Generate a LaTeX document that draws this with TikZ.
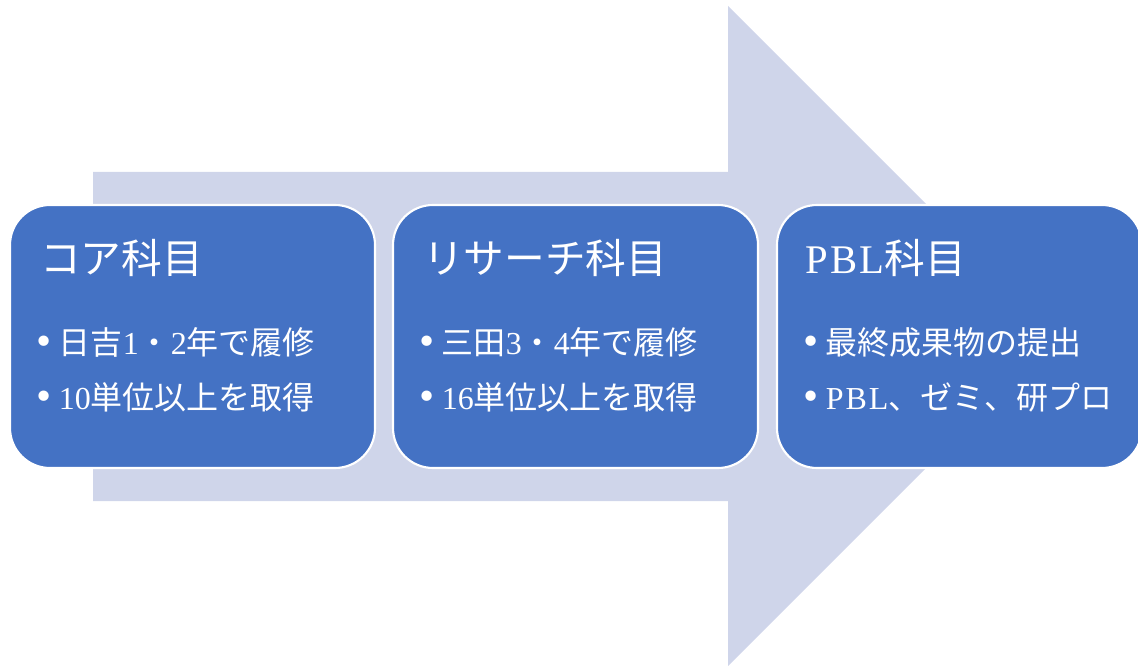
\documentclass[tikz,border=0pt]{standalone}
\usepackage{fontspec}
\setmainfont{Liberation Serif}
\newfontfamily\jp{Noto Sans CJK JP}
\usetikzlibrary{positioning}
\definecolor{arrowfill}{RGB}{207,213,234}
\definecolor{boxblue}{RGB}{68,114,196}
\newcommand\bul[1]{\makebox[17pt][l]{\raisebox{-1pt}{\scalebox{1.35}{\textbullet}}}#1}

\begin{document}
\begin{tikzpicture}[x=0.75pt,y=-0.75pt,
		stage/.style={draw=white,line width=1.6pt,fill=boxblue,rounded corners=30pt,
			minimum width=273.75pt,minimum height=197.25pt,inner sep=0pt},
		title/.style={text=white,font=\fontsize{30.5}{34}\selectfont,anchor=base west,inner sep=0pt},
		item/.style={text=white,font=\fontsize{24}{28}\selectfont,anchor=base west,inner sep=0pt}]
		\useasboundingbox (0,0) rectangle (1138,666);
		%Arrow
		\fill[arrowfill] (93,172) -- (728,172) -- (728,6) -- (1058,336)
			-- (728,666) -- (728,501) -- (93,501) -- cycle;
		%Boxes
		\node[stage] (core) at (192.5,336.5) {};
		\node[stage] (research) at (575.5,336.5) {};
		\node[stage] (pbl) at (959.5,336.5) {};
		%Titles
		\node[title] (coreT) at (40,274) {\jp コア科目};
		\node[title] (researchT) at (423,274) {\jp リサーチ科目};
		\node[title] (pblT) at (805,274) {\addfontfeature{LetterSpace=6}PBL{\jp 科目}};
		%Items
		\node[item] (core1) at (36,354) {\bul{{\jp 日吉}1{\jp ・}2{\jp 年で履修}}};
		\node[item] (core2) at (36,409) {\bul{10{\jp 単位以上を取得}}};
		\node[item] (research1) at (419,354) {\bul{{\jp 三田}3{\jp ・}4{\jp 年で履修}}};
		\node[item] (research2) at (419,409) {\bul{16{\jp 単位以上を取得}}};
		\node[item] (pbl1) at (803,354) {\bul{{\jp 最終成果物の提出}}};
		\node[item] (pbl2) at (803,409) {\bul{{\addfontfeature{LetterSpace=6}PBL}{\jp 、ゼミ、研プロ}}};
\end{tikzpicture}
\end{document}
